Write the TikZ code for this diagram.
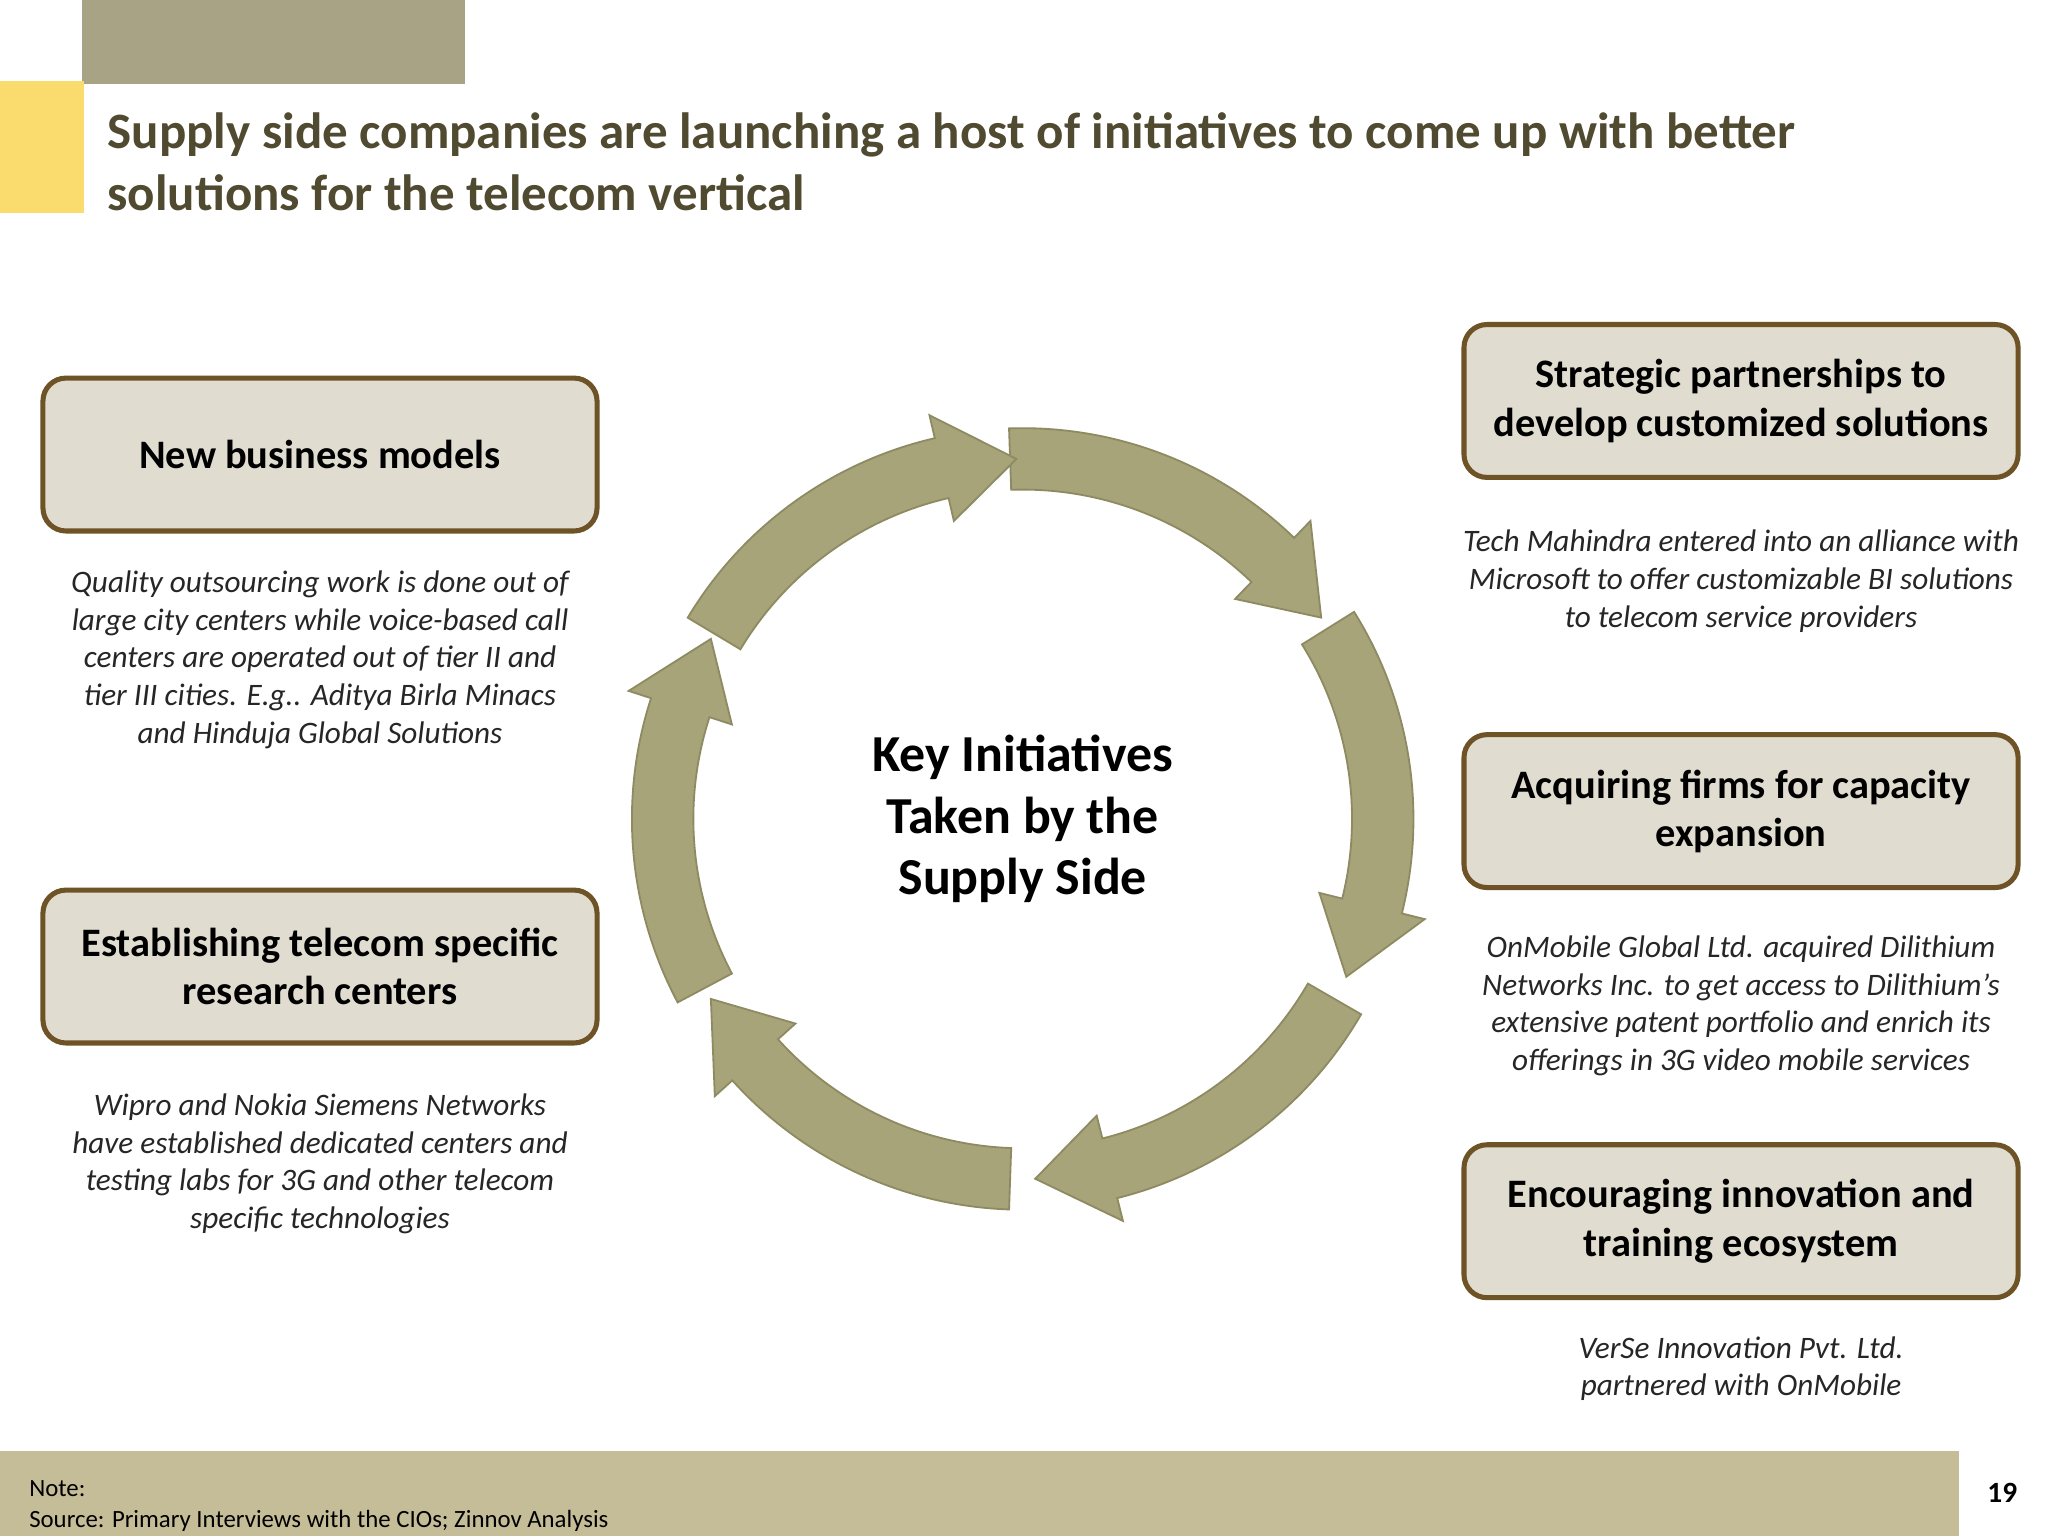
\documentclass[tikz,border=0pt]{standalone}
\usepackage{fontspec}
\setmainfont{Carlito}
\definecolor{olive}{HTML}{A8A47A}
\definecolor{oliveD}{HTML}{8E8A62}
\definecolor{boxfill}{HTML}{E0DDD0}
\definecolor{boxline}{HTML}{6E5326}
\definecolor{titlec}{HTML}{4F4A30}
\definecolor{topbar}{HTML}{A8A385}
\definecolor{yel}{HTML}{FADB6E}
\definecolor{botbar}{HTML}{C4BD98}
\tikzset{
 ibox/.style={draw=boxline,line width=1.1pt,fill=boxfill,rounded corners=5pt,minimum width=4.24cm,minimum height=1.17cm,align=center,font=\fontsize{8.8}{10.5}\selectfont\bfseries},
 desc/.style={align=center,font=\fontsize{6.8}{8.2}\selectfont\itshape,text=black!85},
 arr/.style={fill=olive,draw=oliveD,line width=0.4pt}
}
\begin{document}
\begin{tikzpicture}[x=0.01cm,y=-0.01cm]
\useasboundingbox[fill=white] (0,0) rectangle (1568,1176);
\fill[topbar] (63,0) rectangle (356,64);
\fill[yel] (0,62) rectangle (64,163);
\fill[botbar] (0,1111) rectangle (1500,1176);
\node[anchor=north west,align=left,text=titlec,font=\fontsize{11.1}{13.4}\selectfont\bfseries] (title) at (70,74) {Supply side companies are launching a host of initiatives to come up with better\\solutions for the telecom vertical};
% arrows
\begin{scope}[shift={(783,627)}]
\foreach \s in {92,32,-30,-92,-152,-211}{
 \path[arr] (\s:2.99cm) arc(\s:\s-46:2.99cm) -- (\s-46:3.17cm) -- (\s-58:2.755cm) -- (\s-46:2.34cm) -- (\s-46:2.52cm) arc(\s-46:\s:2.52cm) -- cycle;
}
\end{scope}
\node[align=center,font=\fontsize{11.3}{13.4}\selectfont\bfseries] (center) at (783,627) {Key Initiatives\\Taken by the\\Supply Side};
\node[ibox] (b1) at (245,348) {New business models};
\node[ibox] (b2) at (245,740) {Establishing telecom specific\\research centers};
\node[ibox] (b3) at (1333,307) {Strategic partnerships to\\develop customized solutions};
\node[ibox] (b4) at (1333,621) {Acquiring firms for capacity\\expansion};
\node[ibox] (b5) at (1333,935) {Encouraging innovation and\\training ecosystem};
\node[desc] (d1) at (245,505) {Quality outsourcing work is done out of\\large city centers while voice-based call\\centers are operated out of tier II and\\tier III cities. E.g.. Aditya Birla Minacs\\and Hinduja Global Solutions};
\node[desc] (d2) at (245,891) {Wipro and Nokia Siemens Networks\\have established dedicated centers and\\testing labs for 3G and other telecom\\specific technologies};
\node[desc] (d3) at (1333,445) {Tech Mahindra entered into an alliance with\\Microsoft to offer customizable BI solutions\\to telecom service providers};
\node[desc] (d4) at (1333,770) {OnMobile Global Ltd. acquired Dilithium\\Networks Inc. to get access to Dilithium’s\\extensive patent portfolio and enrich its\\offerings in 3G video mobile services};
\node[desc] (d5) at (1333,1048) {VerSe Innovation Pvt. Ltd.\\partnered with OnMobile};
\node[anchor=west,align=left,font=\fontsize{5.4}{6.8}\selectfont] (note) at (10,1153) {Note:\\Source: Primary Interviews with the CIOs; Zinnov Analysis};
\node[font=\fontsize{6.4}{7}\selectfont\bfseries] (pg) at (1533,1143) {19};
\end{tikzpicture}
\end{document}
